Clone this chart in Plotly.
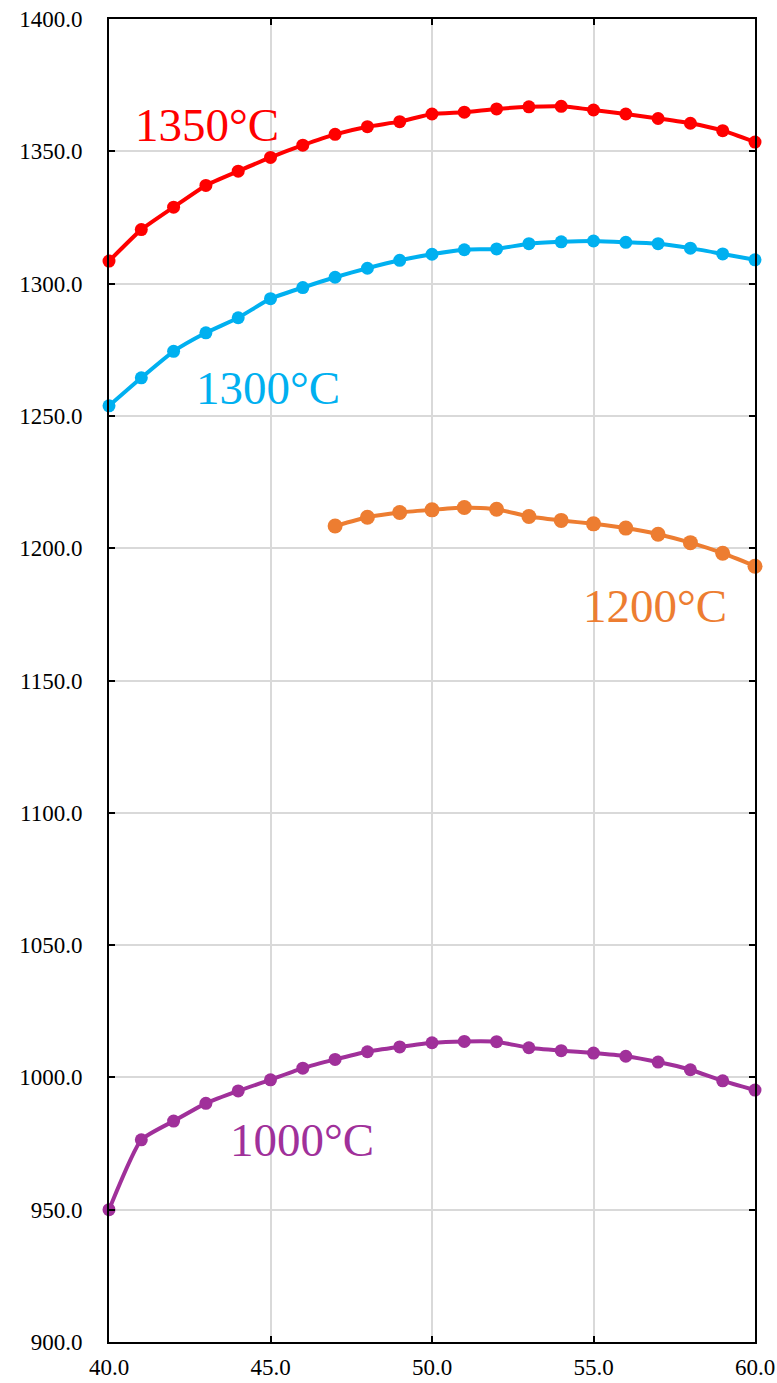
import plotly.graph_objects as go

x_all = list(range(40, 61))
x_1200 = list(range(47, 61))

y_1350 = [1308.5, 1320.4, 1328.9, 1337.1, 1342.5, 1347.7, 1352.3, 1356.4, 1359.3, 1361.2,
          1364.1, 1364.8, 1366.0, 1366.8, 1367.0, 1365.6, 1364.1, 1362.4, 1360.6, 1357.8, 1353.5]
y_1300 = [1253.8, 1264.4, 1274.4, 1281.4, 1287.1, 1294.3, 1298.5, 1302.4, 1305.8, 1308.8,
          1311.1, 1312.8, 1313.1, 1315.1, 1315.8, 1316.1, 1315.6, 1315.1, 1313.4, 1311.2, 1309.0]
y_1200 = [1208.4, 1211.7, 1213.5, 1214.5, 1215.4, 1214.7, 1212.0, 1210.5, 1209.2, 1207.6,
          1205.3, 1202.1, 1198.1, 1193.2]
y_1000 = [950.0, 976.4, 983.5, 990.2, 994.9, 999.1, 1003.5, 1006.8, 1009.7, 1011.5,
          1013.1, 1013.6, 1013.5, 1011.2, 1010.1, 1009.2, 1008.0, 1005.8, 1002.9, 998.7, 995.2]

labels = ["1350°C", "1300°C", "1200°C", "1000°C"]
label_x = [43.03, 44.92, 56.9, 45.97]
label_y = [1360, 1260.5, 1178, 976.3]
colors = ["#FF0000", "#00B0F0", "#ED7D31", "#A0309A"]

series = [(x_all, y_1350, 13), (x_all, y_1300, 13), (x_1200, y_1200, 15), (x_all, y_1000, 13)]

fig = go.Figure()
for (xs, ys, ms), c, name in zip(series, colors, labels):
    fig.add_trace(go.Scatter(
        x=xs, y=ys, mode="lines+markers", name=name,
        line=dict(color=c, width=4, shape="spline", smoothing=0.5),
        marker=dict(color=c, size=ms),
        cliponaxis=False,
    ))

for t, lx, ly, c in zip(labels, label_x, label_y, colors):
    fig.add_annotation(x=lx, y=ly, text=t, showarrow=False,
                       font=dict(family="Liberation Serif", size=47, color=c))

axis_common = dict(
    showgrid=True, gridcolor="#D9D9D9", gridwidth=1.5,
    showline=True, linecolor="black", linewidth=2, mirror="ticks",
    ticks="inside", ticklen=6, tickcolor="black", tickwidth=2,
    zeroline=False, tickformat=".1f", automargin=False,
    ticklabeloverflow="allow",
    tickfont=dict(family="Liberation Serif", size=23, color="black"),
)

fig.update_xaxes(range=[40, 60], dtick=5, tick0=40, ticklabelstandoff=3, **axis_common)
fig.update_yaxes(range=[900, 1400], dtick=50, tick0=900, ticklabelstandoff=20, **axis_common)

fig.update_layout(
    width=777, height=1383,
    margin=dict(l=109, r=22, t=19, b=41),
    paper_bgcolor="white", plot_bgcolor="white",
    showlegend=False,
)

fig.write_html("out.html", config={"displayModeBar": False},
               post_script="document.body.style.margin='0';")
